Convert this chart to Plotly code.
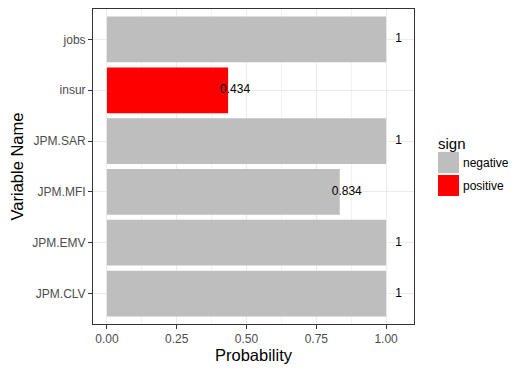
import plotly.graph_objects as go

variables = ["JPM.CLV", "JPM.EMV", "JPM.MFI", "JPM.SAR", "insur", "jobs"]
probability = [1.0, 1.0, 0.834, 1.0, 0.434, 1.0]
sign = ["negative", "negative", "negative", "negative", "positive", "negative"]
labels = ["1", "1", "0.834", "1", "0.434", "1"]

COLORS = {"negative": "#bebebe", "positive": "#ff0000"}
FONT = "Liberation Sans, Arial, sans-serif"

# page body has an 8px margin, so the figure is a bit smaller than the window
W, H = 516, 365
L, R, T, B = 85, 110, 1, 49
PW, PH = W - L - R, H - T - B


def px_to_paper(x, y):
    # window pixel coords -> paper coords
    return (x - 8 - L) / PW, (H - B - (y - 8)) / PH


fig = go.Figure()
fig.add_trace(go.Bar(
    x=probability, y=variables, orientation="h",
    marker_color=[COLORS[s] for s in sign], marker_line_width=0,
    width=0.9, showlegend=False, hoverinfo="x+y",
))
# value labels, nudged to the right of each bar end
fig.add_trace(go.Scatter(
    x=[p + (0.045 if p == 1 else 0.025) for p in probability], y=variables,
    mode="text", text=labels, textfont=dict(family=FONT, size=12, color="black"),
    showlegend=False, hoverinfo="skip", cliponaxis=False,
))

fig.update_layout(
    width=W, height=H,
    margin=dict(l=L, r=R, t=T, b=B, autoexpand=False),
    paper_bgcolor="white", plot_bgcolor="white",
    font=dict(family=FONT),
)
fig.update_xaxes(
    range=[-0.05, 1.1], tickvals=[0, 0.25, 0.5, 0.75, 1.0],
    ticktext=["0.00", "0.25", "0.50", "0.75", "1.00"],
    tickfont=dict(size=12, color="#4d4d4d"),
    ticks="outside", ticklen=4, tickcolor="#333333",
    showgrid=True, gridcolor="#ebebeb", gridwidth=1, zeroline=False,
    minor=dict(tick0=0.125, dtick=0.25, showgrid=True, gridcolor="#f2f2f2", gridwidth=0.6),
    showline=True, linecolor="#333333", mirror=True, linewidth=1,
    title=dict(text="Probability", font=dict(size=16.5, color="black"), standoff=4),
)
fig.update_yaxes(
    range=[-0.6, 5.6], categoryorder="array", categoryarray=variables,
    tickfont=dict(size=12, color="#4d4d4d"),
    ticks="outside", ticklen=4, tickcolor="#333333",
    showgrid=True, gridcolor="#ebebeb", gridwidth=1, zeroline=False,
    showline=True, linecolor="#333333", mirror=True, linewidth=1,
    title=dict(text="Variable Name", font=dict(size=16.5, color="black"), standoff=4),
)

# legend drawn manually to match the large square keys
lx, ly = px_to_paper(436, 143)
fig.add_annotation(xref="paper", yref="paper", x=lx, y=ly,
                   text="sign", showarrow=False, xanchor="left", yanchor="middle",
                   font=dict(family=FONT, size=15, color="black"))
for i, s in enumerate(["negative", "positive"]):
    top = 152 + i * 23
    x0, y1 = px_to_paper(438, top)
    x1, y0 = px_to_paper(459, top + 21)
    fig.add_shape(type="rect", xref="paper", yref="paper",
                  x0=x0, x1=x1, y0=y0, y1=y1,
                  fillcolor=COLORS[s], line_width=0)
    tx, ty = px_to_paper(461, top + 10.5)
    fig.add_annotation(xref="paper", yref="paper", x=tx, y=ty, text=s,
                       showarrow=False, xanchor="left", yanchor="middle",
                       font=dict(family=FONT, size=12, color="black"))

fig.write_html("out.html")
